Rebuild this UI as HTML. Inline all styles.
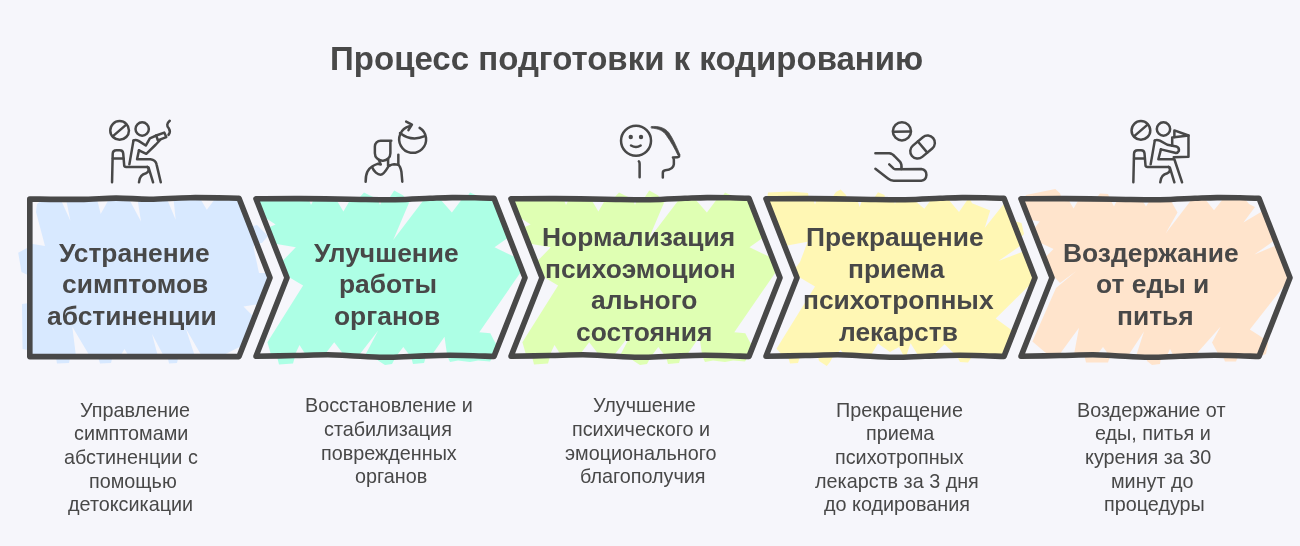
<!DOCTYPE html>
<html><head><meta charset="utf-8">
<style>
html,body{margin:0;padding:0;}
body{width:1300px;height:546px;background:#f6f6fb;overflow:hidden;position:relative;font-family:"Liberation Sans",sans-serif;}
svg{position:absolute;left:0;top:0;}
.title,.h,.d{will-change:transform;}
.title{position:absolute;left:0;width:1253.4px;top:39px;text-align:center;font-weight:bold;font-size:33px;color:#484848;line-height:40px;white-space:nowrap;}
.h{position:absolute;font-weight:bold;font-size:26.4px;line-height:40px;color:#484848;white-space:nowrap;}
.d{position:absolute;font-size:19.8px;line-height:40px;color:#484848;white-space:nowrap;}
</style></head><body>
<svg width="1300" height="546" viewBox="0 0 1300 546">
<g id="fills"><path d="M29.8 243.6 L45.0 246.0 L36.0 212.0 L37.0 204.0 L43.0 198.9 L60.5 198.9 L70.4 220.7 L66.0 198.9 L97.0 198.9 L100.7 214.0 L109.0 198.9 L129.0 198.9 L141.0 221.6 L137.5 198.9 L167.0 198.9 L175.7 219.8 L173.5 198.9 L200.4 198.9 L206.8 209.7 L215.0 198.9 L239.0 198.9 L250.0 227.0 L257.0 225.0 L268.0 236.0 L262.0 243.0 L256.0 243.0 L253.5 247.3 L259.0 273.0 L268.0 273.0 L270.0 277.7 L259.7 304.0 L243.5 306.6 L254.3 317.6 L243.5 345.0 L220.6 356.6 L202.0 356.6 L185.8 328.6 L195.0 356.6 L164.0 356.6 L152.0 334.0 L158.0 356.6 L129.0 356.6 L124.5 349.0 L120.0 356.6 L90.0 356.6 L72.3 326.8 L76.0 356.6 L29.8 356.6 Z M29.8 248.0 L27.0 248.0 L18.2 252.8 L21.5 272.0 L29.8 276.0 Z M29.8 303.0 L22.0 304.0 L22.5 349.0 L29.8 350.6 Z M55.8 356.6 L57.0 363.4 L69.0 363.0 L70.4 356.6 Z M98.0 356.6 L100.0 363.4 L111.0 363.0 L112.6 356.6 Z M167.5 356.6 L169.0 363.4 L177.0 363.0 L178.5 356.6 Z" fill="#d8e9ff"/><path d="M256.0 198.9 L308.6 198.9 L311.0 205.0 L314.0 198.9 L336.0 198.9 L343.4 211.5 L350.7 198.9 L358.0 198.9 L364.0 192.6 L370.0 195.5 L377.5 198.9 L380.0 205.0 L382.5 198.9 L388.7 198.9 L394.2 190.5 L403.3 195.5 L405.0 198.9 L410.6 198.9 L393.2 240.0 L424.4 198.9 L440.0 198.9 L451.9 212.5 L462.0 198.9 L465.6 198.9 L470.0 192.5 L476.6 195.5 L478.0 198.9 L494.0 198.9 L509.0 237.0 L494.5 247.3 L517.0 258.0 L522.5 270.0 L519.6 273.7 L479.3 332.3 L490.3 333.2 L494.0 340.5 L498.5 348.0 L495.0 356.6 L493.0 356.6 L490.0 361.5 L478.0 360.5 L470.0 362.0 L458.0 360.5 L450.0 362.0 L447.3 356.6 L444.5 336.8 L430.8 356.6 L410.6 356.6 L403.3 347.0 L396.0 356.6 L392.0 364.0 L385.0 365.0 L378.0 360.5 L376.0 356.6 L364.5 356.6 L378.2 330.4 L358.0 356.6 L345.2 356.6 L334.2 342.3 L323.3 356.6 L306.8 356.6 L299.5 345.1 L294.0 356.6 L271.5 356.6 L267.4 342.3 L303.1 285.6 L290.0 277.7 L281.5 262.0 L295.8 247.3 L273.6 243.6 L267.4 228.0 L275.6 224.4 L262.7 216.0 Z M411.0 356.6 L413.0 364.0 L424.0 363.0 L426.0 356.6 Z M277.0 356.6 L279.0 364.5 L293.0 363.5 L295.0 356.6 Z" fill="#adffe5"/><path d="M511.0 198.9 L563.6 198.9 L566.0 205.0 L569.0 198.9 L591.0 198.9 L598.4 211.5 L605.7 198.9 L613.0 198.9 L619.0 192.6 L625.0 195.5 L632.5 198.9 L635.0 205.0 L637.5 198.9 L643.7 198.9 L649.2 190.5 L658.3 195.5 L660.0 198.9 L665.6 198.9 L648.2 240.0 L679.4 198.9 L695.0 198.9 L706.9 212.5 L717.0 198.9 L720.6 198.9 L725.0 192.5 L731.6 195.5 L733.0 198.9 L749.0 198.9 L764.0 237.0 L749.5 247.3 L772.0 258.0 L777.5 270.0 L774.6 273.7 L734.3 332.3 L745.3 333.2 L749.0 340.5 L753.5 348.0 L750.0 356.6 L748.0 356.6 L745.0 361.5 L733.0 360.5 L725.0 362.0 L713.0 360.5 L705.0 362.0 L702.3 356.6 L699.5 336.8 L685.8 356.6 L665.6 356.6 L658.3 347.0 L651.0 356.6 L647.0 364.0 L640.0 365.0 L633.0 360.5 L631.0 356.6 L619.5 356.6 L633.2 330.4 L613.0 356.6 L600.2 356.6 L589.2 342.3 L578.3 356.6 L561.8 356.6 L554.5 345.1 L549.0 356.6 L526.5 356.6 L522.4 342.3 L558.1 285.6 L545.0 277.7 L536.5 262.0 L550.8 247.3 L528.6 243.6 L522.4 228.0 L530.6 224.4 L517.7 216.0 Z M666.0 356.6 L668.0 364.0 L679.0 363.0 L681.0 356.6 Z M532.0 356.6 L534.0 364.5 L548.0 363.5 L550.0 356.6 Z" fill="#dfffb3"/><path d="M766.0 198.9 L767.0 198.9 L768.0 192.5 L790.0 191.5 L808.0 193.0 L809.0 198.9 L813.0 198.9 L815.0 204.5 L817.0 198.9 L831.0 198.9 L836.0 192.0 L840.6 189.6 L846.0 195.0 L847.0 198.9 L857.0 198.9 L859.7 207.0 L862.5 198.9 L873.5 198.9 L878.0 192.3 L884.5 195.0 L885.0 198.9 L893.7 198.9 L895.0 204.5 L896.4 198.9 L913.0 198.9 L924.3 208.8 L931.6 198.9 L948.0 198.9 L959.0 212.0 L968.0 198.9 L970.0 198.9 L972.0 203.3 L990.2 210.6 L984.7 228.0 L1004.5 203.0 L1010.0 214.0 L1014.0 221.0 L1021.5 223.0 L1024.0 234.0 L1019.5 238.5 L1021.5 245.0 L998.5 261.0 L1024.5 251.0 L1035.0 277.7 L1033.7 281.0 L995.7 318.5 L1012.2 330.4 L1014.3 330.4 L1004.0 356.6 L957.3 356.6 L944.5 344.2 L931.6 356.6 L918.8 356.6 L910.6 343.3 L906.0 356.6 L904.0 356.6 L899.0 347.0 L890.0 352.0 L878.0 343.5 L870.0 356.6 L846.0 356.6 L840.6 350.0 L833.0 356.6 L783.8 356.6 L776.5 348.8 L815.0 286.5 L799.4 277.3 L797.0 277.7 L794.0 270.0 L800.0 262.0 L807.6 241.8 L784.5 246.0 Z M972.0 356.6 L968.0 362.5 L960.0 362.0 L957.0 356.6 Z M833.0 356.6 L830.0 362.0 L826.8 366.0 L819.0 361.0 L818.0 356.6 Z M800.0 356.6 L798.0 363.0 L790.0 363.4 L788.0 356.6 Z" fill="#fff7b4"/><path d="M1021.0 198.9 L1024.0 198.9 L1026.0 195.0 L1055.3 189.0 L1060.0 193.2 L1062.0 198.9 L1068.0 198.9 L1073.6 208.4 L1079.0 198.9 L1095.6 198.9 L1100.0 193.5 L1108.0 194.0 L1110.0 198.9 L1114.0 206.6 L1117.6 198.9 L1141.4 198.9 L1146.0 206.6 L1150.5 198.9 L1170.0 198.9 L1177.5 212.5 L1165.6 233.5 L1192.0 198.9 L1205.0 198.9 L1214.0 210.3 L1223.0 198.9 L1245.0 198.9 L1249.0 204.0 L1255.0 207.0 L1243.4 222.5 L1263.5 210.5 L1275.0 240.0 L1254.4 254.6 L1277.0 245.0 L1290.0 277.7 L1289.4 279.2 L1249.8 329.5 L1260.0 336.0 L1265.5 340.0 L1268.0 343.0 L1266.0 354.0 L1259.0 356.6 L1219.6 356.6 L1212.0 342.5 L1220.5 326.8 L1194.0 356.6 L1173.8 356.6 L1170.0 349.0 L1166.5 356.6 L1135.9 356.6 L1144.0 331.4 L1127.6 356.6 L1110.0 356.6 L1103.0 347.0 L1095.6 356.6 L1073.6 356.6 L1079.0 327.7 L1058.0 356.6 L1050.0 356.6 L1032.4 341.4 L1056.0 288.0 L1076.4 271.0 L1060.0 283.0 L1055.0 277.7 L1052.0 277.7 L1044.3 258.3 L1053.5 249.0 L1038.0 241.8 L1033.8 229.0 L1039.7 221.5 L1029.5 219.8 Z M1238.0 356.6 L1236.0 361.6 L1225.0 361.6 L1223.0 356.6 Z M1161.0 356.6 L1160.0 364.0 L1152.0 365.0 L1147.0 361.0 L1146.0 356.6 Z M1110.0 356.6 L1108.0 362.5 L1086.0 362.5 L1084.6 356.6 Z" fill="#ffe4cc"/></g>
<g id="outlines" fill="none" stroke="#484848" stroke-width="5.6" stroke-linejoin="round"><path d="M29.8 199 C38.2 199.07 65.6 199.55 80.0 199.40 C94.4 199.25 104.3 198.13 116.0 198.10 C127.7 198.07 137.7 199.27 150.0 199.20 C162.3 199.13 175.2 197.87 190.0 197.70 C204.8 197.53 230.8 198.12 239.0 198.20 L270 277.75 L239 356.6 L29.8 356.6 Z"/><path d="M256 198.8 C263.3 198.77 284.3 198.53 300.0 198.60 C315.7 198.67 334.2 199.02 350.0 199.20 C365.8 199.38 381.7 199.85 395.0 199.70 C408.3 199.55 420.5 198.65 430.0 198.30 C439.5 197.95 444.5 197.68 452.0 197.60 C459.5 197.52 468.0 197.68 475.0 197.80 C482.0 197.92 490.8 198.22 494.0 198.30 L525 277.75 L494 356.4 C486.7 356.22 463.2 355.32 450.0 355.30 C436.8 355.28 426.0 355.97 415.0 356.30 C404.0 356.63 394.8 357.40 384.0 357.30 C373.2 357.20 359.3 356.12 350.0 355.70 C340.7 355.28 337.2 354.83 328.0 354.80 C318.8 354.77 307.0 355.25 295.0 355.50 C283.0 355.75 262.5 356.17 256.0 356.30 L287 277.75 Z"/><path d="M511 198.8 C518.3 198.77 539.3 198.53 555.0 198.60 C570.7 198.67 589.2 199.02 605.0 199.20 C620.8 199.38 636.7 199.85 650.0 199.70 C663.3 199.55 675.5 198.65 685.0 198.30 C694.5 197.95 699.5 197.68 707.0 197.60 C714.5 197.52 723.0 197.68 730.0 197.80 C737.0 197.92 745.8 198.22 749.0 198.30 L780 277.75 L749 356.4 C741.7 356.22 718.2 355.32 705.0 355.30 C691.8 355.28 681.0 355.97 670.0 356.30 C659.0 356.63 649.8 357.40 639.0 357.30 C628.2 357.20 614.3 356.12 605.0 355.70 C595.7 355.28 592.2 354.83 583.0 354.80 C573.8 354.77 562.0 355.25 550.0 355.50 C538.0 355.75 517.5 356.17 511.0 356.30 L542 277.75 Z"/><path d="M766 198.8 C773.3 198.77 794.3 198.53 810.0 198.60 C825.7 198.67 844.2 199.02 860.0 199.20 C875.8 199.38 891.7 199.85 905.0 199.70 C918.3 199.55 930.5 198.65 940.0 198.30 C949.5 197.95 954.5 197.68 962.0 197.60 C969.5 197.52 978.0 197.68 985.0 197.80 C992.0 197.92 1000.8 198.22 1004.0 198.30 L1035 277.75 L1004 356.4 C996.7 356.22 973.2 355.32 960.0 355.30 C946.8 355.28 936.0 355.97 925.0 356.30 C914.0 356.63 904.8 357.40 894.0 357.30 C883.2 357.20 869.3 356.12 860.0 355.70 C850.7 355.28 847.2 354.83 838.0 354.80 C828.8 354.77 817.0 355.25 805.0 355.50 C793.0 355.75 772.5 356.17 766.0 356.30 L797 277.75 Z"/><path d="M1021 198.8 C1028.3 198.77 1049.3 198.53 1065.0 198.60 C1080.7 198.67 1099.2 199.02 1115.0 199.20 C1130.8 199.38 1146.7 199.85 1160.0 199.70 C1173.3 199.55 1185.5 198.65 1195.0 198.30 C1204.5 197.95 1209.5 197.68 1217.0 197.60 C1224.5 197.52 1233.0 197.68 1240.0 197.80 C1247.0 197.92 1255.8 198.22 1259.0 198.30 L1290 277.75 L1259 356.4 C1251.7 356.22 1228.2 355.32 1215.0 355.30 C1201.8 355.28 1191.0 355.97 1180.0 356.30 C1169.0 356.63 1159.8 357.40 1149.0 357.30 C1138.2 357.20 1124.3 356.12 1115.0 355.70 C1105.7 355.28 1102.2 354.83 1093.0 354.80 C1083.8 354.77 1072.0 355.25 1060.0 355.50 C1048.0 355.75 1027.5 356.17 1021.0 356.30 L1052 277.75 Z"/></g>
<g id="icons" fill="none" stroke="#484848" stroke-linecap="round" stroke-linejoin="round"><g transform="translate(105,115) scale(0.12821)" stroke-width="19.5">
<circle cx="114" cy="120" r="73"/>
<path d="M62 165 L166 75"/>
<circle cx="290" cy="109" r="52"/>
<path d="M55 525 L60 305 Q60 275 90 275 L115 275 Q140 275 142 300 L150 395 Q151 405 165 405 L330 405"/>
<path d="M62 340 L143 340"/>
<path d="M222 200 L190 385"/>
<path d="M330 405 Q355 430 320 455 Q270 465 265 525"/>
<path d="M340 410 L375 525"/>

<path d="M222 198 Q240 190 262 202 L318 238 L350 182 L400 160"/>
<path d="M400 160 L462 137 L478 172 L412 198 Z"/>
<path d="M505 45 Q470 75 498 105 Q515 130 495 155"/>
<path d="M265 275 L322 303 L395 232 L430 195"/>
<path d="M265 275 L250 345 L355 345 Q395 350 402 385 L435 525"/>
</g><g transform="translate(360,115) scale(0.12821)" stroke-width="19.5">
<path d="M244 201 L161 200 A45 45 0 0 0 116 245 L116 298 A58 58 0 0 0 174 356 L180 356 A57 58 0 0 0 237 298 L237 208"/>
<path d="M44 520 Q44 470 58 442 Q72 415 94 402 Q115 388 137 381 L162 386 L148 352"/>
<path d="M94 406 C108 442 138 466 160 466 C186 466 205 430 223 399 L230 395"/>
<path d="M219 345 L219 392"/>
<path d="M230 395 Q250 386 266 385 L298 388 Q315 400 323 442 L330 520"/>
<path d="M299 310 L299 388"/>
<path d="M465 100 A105 105 0 1 1 385 88"/>
<path d="M360 52 L405 75 L378 118"/>
<path d="M312 140 Q400 210 505 165"/>
</g><g transform="translate(615,115) scale(0.12821)" stroke-width="19.5">
<circle cx="164" cy="201" r="117"/>
<circle cx="123" cy="172" r="17" fill="#484848" stroke="none"/>
<circle cx="203" cy="172" r="17" fill="#484848" stroke="none"/>
<path d="M125 238 Q165 262 200 238"/>
<path d="M186 362 Q192 368 192 380 L192 485"/>
<path d="M285 90 C335 85 388 98 419 137 C449 181 471 227 507 312 L491 314 C470 268 440 214 400 158 C376 122 340 106 285 102 Z" fill="#484848" stroke-width="6"/>
<path d="M499 312 Q505 328 488 329 L452 331 Q459 338 459 350 L459 385 Q455 425 392 431 Q373 433 373 452 L373 487"/>
</g><g transform="translate(870,115) scale(0.12821)" stroke-width="19.5">
<circle cx="249" cy="127" r="71"/>
<path d="M185 130 L315 128"/>
<g transform="translate(410,250) rotate(-40)"><rect x="-108" y="-57" width="216" height="114" rx="57" ry="57"/><path d="M0 -57 L0 57"/></g>
<path d="M42 298 L150 298 Q175 300 195 325 L235 365 Q250 385 245 422"/>
<path d="M150 385 L185 418 Q192 424 205 423 L400 422 Q440 428 440 468 Q438 508 400 512 L185 512 Q160 512 140 495 L42 420"/>
</g><g transform="translate(1126.3,115) scale(0.12821)" stroke-width="19.5">
<circle cx="114" cy="120" r="73"/>
<path d="M62 165 L166 75"/>
<circle cx="290" cy="109" r="52"/>
<path d="M55 525 L60 305 Q60 275 90 275 L115 275 Q140 275 142 300 L150 395 Q151 405 165 405 L330 405"/>
<path d="M62 340 L143 340"/>
<path d="M222 200 L190 385"/>
<path d="M330 405 Q355 430 320 455 Q270 465 265 525"/>
<path d="M340 410 L375 525"/>

<path d="M222 198 Q240 190 262 200 L320 232 L390 245 Q415 255 410 280 Q400 300 380 295 L270 268"/>
<path d="M358 240 L358 175 L485 160 L485 325 L370 330"/>
<path d="M375 172 L375 120 L485 160"/>
<path d="M270 268 L250 345 L375 345 L435 525"/>
</g></g>
</svg>
<div class="title">Процесс подготовки к кодированию</div>
<div class="h" style="left:58.90px;top:233.15px;">Устранение</div><div class="h" style="left:62.15px;top:263.85px;">симптомов</div><div class="h" style="left:47.30px;top:295.75px;">абстиненции</div><div class="h" style="left:313.95px;top:233.15px;">Улучшение</div><div class="h" style="left:338.80px;top:263.85px;">работы</div><div class="h" style="left:334.30px;top:295.75px;">органов</div><div class="h" style="left:542.25px;top:217.15px;">Нормализация</div><div class="h" style="left:544.95px;top:248.65px;">психоэмоцион</div><div class="h" style="left:591.20px;top:280.25px;">ального</div><div class="h" style="left:575.95px;top:312.05px;">состояния</div><div class="h" style="left:805.65px;top:217.15px;">Прекращение</div><div class="h" style="left:847.65px;top:248.65px;">приема</div><div class="h" style="left:802.95px;top:280.25px;">психотропных</div><div class="h" style="left:839.25px;top:312.05px;">лекарств</div><div class="h" style="left:1062.75px;top:233.15px;">Воздержание</div><div class="h" style="left:1095.50px;top:263.85px;">от еды и</div><div class="h" style="left:1117.05px;top:295.75px;">питья</div><div class="d" style="left:79.55px;top:389.54px;">Управление</div><div class="d" style="left:73.70px;top:413.34px;">симптомами</div><div class="d" style="left:63.60px;top:436.74px;">абстиненции с</div><div class="d" style="left:89.10px;top:460.54px;">помощью</div><div class="d" style="left:68.40px;top:484.34px;">детоксикации</div><div class="d" style="left:304.50px;top:385.24px;">Восстановление и</div><div class="d" style="left:324.05px;top:409.34px;">стабилизация</div><div class="d" style="left:321.05px;top:432.74px;">поврежденных</div><div class="d" style="left:354.80px;top:456.44px;">органов</div><div class="d" style="left:592.80px;top:385.24px;">Улучшение</div><div class="d" style="left:572.15px;top:409.34px;">психического и</div><div class="d" style="left:564.80px;top:432.74px;">эмоционального</div><div class="d" style="left:579.90px;top:456.44px;">благополучия</div><div class="d" style="left:836.10px;top:389.54px;">Прекращение</div><div class="d" style="left:865.50px;top:413.34px;">приема</div><div class="d" style="left:834.90px;top:436.74px;">психотропных</div><div class="d" style="left:815.45px;top:460.54px;">лекарств за 3 дня</div><div class="d" style="left:823.90px;top:484.34px;">до кодирования</div><div class="d" style="left:1077.00px;top:389.54px;">Воздержание от</div><div class="d" style="left:1094.65px;top:413.34px;">еды, питья и</div><div class="d" style="left:1085.35px;top:436.74px;">курения за 30</div><div class="d" style="left:1110.85px;top:460.54px;">минут до</div><div class="d" style="left:1103.55px;top:484.34px;">процедуры</div>
</body></html>
